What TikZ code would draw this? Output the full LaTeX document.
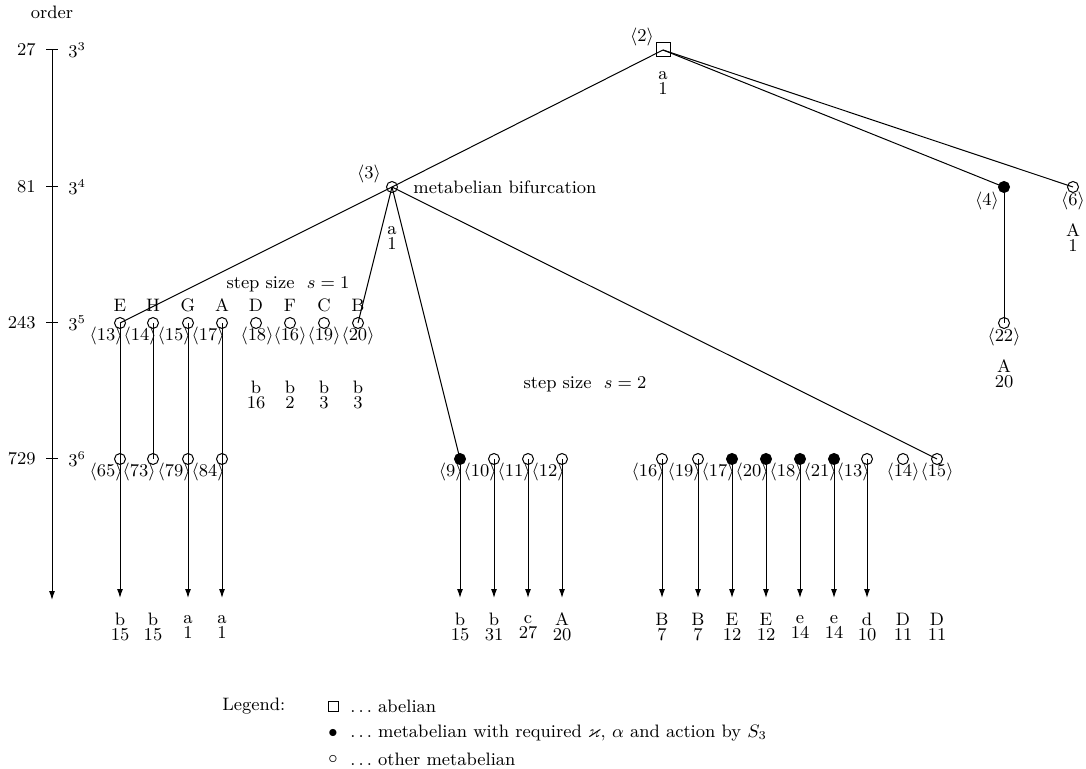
\documentclass[tikz,border=0pt]{standalone}
\usepackage{amssymb}
\usetikzlibrary{arrows.meta}
\begin{document}
\begin{tikzpicture}[x=0.5pt,y=-0.5pt,
  every node/.style={font=\fontsize{9}{7.5}\selectfont, inner sep=0pt},
  opn/.style={circle,draw,line width=0.5pt,minimum size=5.5pt,inner sep=0pt},
  fld/.style={opn,fill=black},
  sqr/.style={rectangle,draw,line width=0.5pt,minimum size=7pt,inner sep=0pt},
  edg/.style={line width=0.5pt},
  arr/.style={line width=0.5pt,-{Latex[length=4.5pt,width=3pt]}},
  two/.style={align=center}]
\useasboundingbox (0,0) rectangle (1086,769);

% ---- order axis ----
\node (order) at (52,12) {order};
\coordinate (axtop) at (52,50);
\coordinate (axbot) at (52,600);
\draw[arr] (axtop) -- (axbot);
\foreach \yy/\nn/\ee/\nm in {50/27/3/t27,187/81/4/t81,323/243/5/t243,459/729/6/t729}{
  \coordinate (\nm l) at (46,\yy);
  \coordinate (\nm r) at (58,\yy);
  \draw[edg] (\nm l) -- (\nm r);
  \node[anchor=east] (\nm n) at (36,\yy) {\nn};
  \node[anchor=west] (\nm p) at (68,\yy) {$3^{\ee}$};
}

% ---- top nodes ----
\node[sqr] (n2) at (663,50) {};
\node (l2) at (642,37) {$\langle 2\rangle$};
\node[two] (v2) at (663,83) {a\\1};

\node[opn] (n3) at (392,187) {};
\node (l3) at (369,174) {$\langle 3\rangle$};
\node[anchor=west] (mb) at (413,187) {metabelian bifurcation};
\node[two] (v3) at (392,238) {a\\1};

\node[fld] (n4) at (1004,187) {};
\node (l4) at (987,201) {$\langle 4\rangle$};
\node[opn] (n6) at (1073,187) {};
\node (l6) at (1073,201) {$\langle 6\rangle$};
\node[two] (v6) at (1073,238) {A\\1};

\node[opn] (n22) at (1004,323) {};
\node (l22) at (1004,337) {$\langle 22\rangle$};
\node[two] (v22) at (1004,374) {A\\20};

% ---- level 243 ----
\foreach \xx/\idn/\ltr in {120/a13/E,153/a14/H,188/a15/G,222/a17/A,256/a18/D,290/a16/F,324/a19/C,358/a20/B}{
  \node[opn] (\idn) at (\xx,323) {};
  \node (\idn t) at (\xx,305) {\ltr};
}
\node[anchor=east] (a13l) at (123,336) {$\langle 13\rangle$};
\node[anchor=east] (a14l) at (157,336) {$\langle 14\rangle$};
\node[anchor=east] (a15l) at (191,336) {$\langle 15\rangle$};
\node[anchor=east] (a17l) at (225,336) {$\langle 17\rangle$};
\node (a18l) at (257,336) {$\langle 18\rangle$};
\node (a16l) at (290,336) {$\langle 16\rangle$};
\node (a19l) at (324,336) {$\langle 19\rangle$};
\node (a20l) at (358,336) {$\langle 20\rangle$};
\node[two] (a18v) at (256,395) {b\\16};
\node[two] (a16v) at (290,395) {b\\2};
\node[two] (a19v) at (324,395) {b\\3};
\node[two] (a20v) at (358,395) {b\\3};

\node (s1) at (288,284) {step size\ \ $s=1$};
\node (s2) at (585,384) {step size\ \ $s=2$};

% ---- level 729 ----
\foreach \xx/\idn/\num/\sty/\ltr/\cnt in {120/b65/65/opn/b/15,153/b73/73/opn/b/15,188/b79/79/opn/a/1,222/b84/84/opn/a/1,460/c9/9/fld/b/15,494/c10/10/opn/b/31,528/c11/11/opn/c/27,562/c12/12/opn/A/20,662/d16/16/opn/B/7,698/d19/19/opn/B/7,732/d17/17/fld/E/12,766/d20/20/fld/E/12,800/d18/18/fld/e/14,834/d21/21/fld/e/14,867/d13/13/opn/d/10}{
  \node[\sty] (\idn) at (\xx,459) {};
  \node[anchor=east] (\idn l) at (\xx+3,472) {$\langle \num\rangle$};
  \node[two] (\idn v) at (\xx,627) {\ltr\\\cnt};
}
\node[opn] (d14) at (903,459) {};
\node (d14l) at (903,472) {$\langle 14\rangle$};
\node[two] (d14v) at (903,627) {D\\11};
\node[opn] (d15) at (937,459) {};
\node (d15l) at (937,472) {$\langle 15\rangle$};
\node[two] (d15v) at (937,627) {D\\11};

% ---- edges ----
\draw[edg] (n2.center) -- (n3.center);
\draw[edg] (n2.center) -- (n4.center);
\draw[edg] (n2.center) -- (n6.center);
\draw[edg] (n4.center) -- (n22.center);
\draw[edg] (n3.center) -- (a13.center);
\draw[edg] (n3.center) -- (a20.center);
\draw[edg] (n3.center) -- (c9.center);
\draw[edg] (n3.center) -- (d15.center);
\draw[edg] (a13.center) -- (b65.center);
\draw[edg] (a14.center) -- (b73.center);
\draw[edg] (a15.center) -- (b79.center);
\draw[edg] (a17.center) -- (b84.center);
\foreach \idn/\xx in {b65/120,b79/188,b84/222,c9/460,c10/494,c11/528,c12/562,d16/662,d19/698,d17/732,d20/766,d18/800,d21/834,d13/867}{
  \coordinate (\idn e) at (\xx,598);
  \draw[arr] (\idn.center) -- (\idn e);
}

% ---- legend ----
\node[anchor=west] (leg) at (222,706) {Legend:};
\node[sqr,minimum size=5pt] (legsq) at (333,706) {};
\node[anchor=west] (legsqt) at (350,706) {$\ldots$\ abelian};
\node (legb) at (333,733) {$\bullet$};
\node[anchor=west] (legbt) at (350,733) {$\ldots$\ metabelian with required $\varkappa$, $\alpha$ and action by $S_3$};
\node (legc) at (333,759) {$\circ$};
\node[anchor=west] (legct) at (350,759) {$\ldots$\ other metabelian};
\end{tikzpicture}
\end{document}
